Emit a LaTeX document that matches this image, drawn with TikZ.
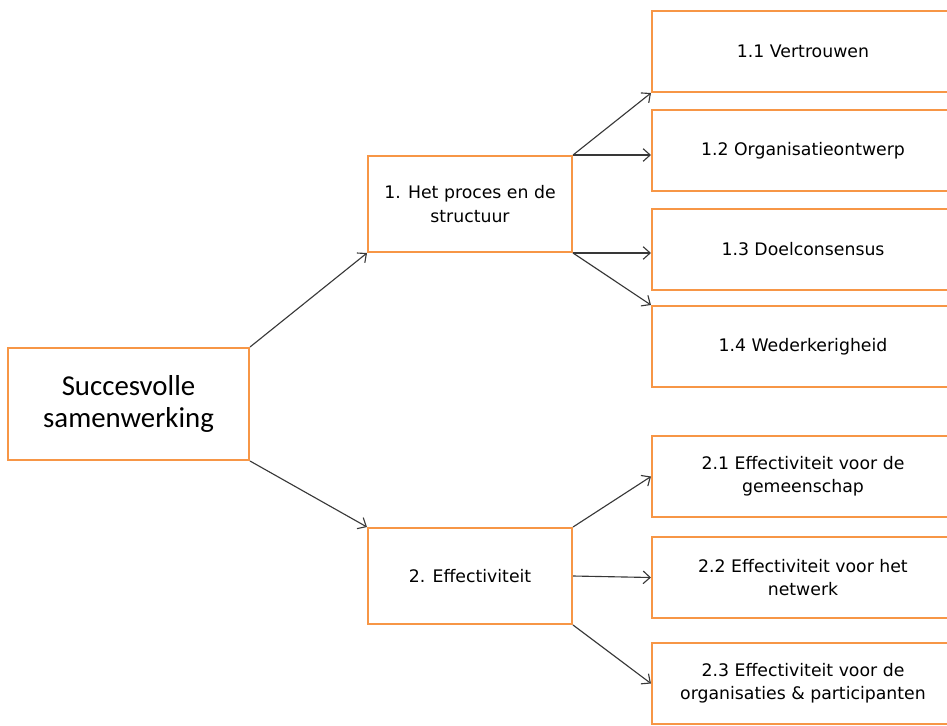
\documentclass[tikz,border=0pt]{standalone}
\usepackage{fontspec}
\setmainfont{DejaVu Sans}
\newfontfamily\rootfont{Carlito}
\usetikzlibrary{arrows.meta}
\definecolor{boxorange}{HTML}{F79646}
\definecolor{arrowgray}{HTML}{383838}

\begin{document}
\begin{tikzpicture}[x=0.025cm,y=-0.025cm,
    box/.style={draw=boxorange,line width=1.4pt,fill=white,align=center,inner sep=0pt,
      font=\fontsize{12.3}{16.6}\selectfont},
    midbox/.style={box,minimum width=5.1cm,minimum height=2.4cm},
    sidebox/.style={box,minimum width=7.55cm,minimum height=2.025cm},
    link/.style={draw=arrowgray,line width=0.8pt,-{Straight Barb[length=5pt,width=9pt]}}]
  \useasboundingbox (0,0) rectangle (947,725);

  \node[box,minimum width=6.025cm,minimum height=2.8cm,font=\rootfont\fontsize{20.5}{23}\selectfont]
    (root) at (128.5,404) {Succesvolle\\samenwerking};

  \node[midbox] (proc) at (470,204) {1. Het proces en de\\structuur};
  \node[midbox] (eff) at (470,576) {2. Effectiviteit};

  \foreach \n/\y/\t in {a1/51.5/{1.1 Vertrouwen},
                        a2/150.5/{1.2 Organisatieontwerp},
                        a3/249.5/{1.3 Doelconsensus},
                        a4/346.5/{1.4 Wederkerigheid},
                        b1/476.5/{2.1 Effectiviteit voor de\\gemeenschap},
                        b2/577.5/{2.2 Effectiviteit voor het\\netwerk},
                        b3/683.5/{2.3 Effectiviteit voor de\\organisaties \& participanten}}
    \node[sidebox] (\n) at (803,\y) {\t};

  \draw[link] (root.north east) -- (proc.south west);
  \draw[link] (root.south east) -- (eff.north west);

  % the straight ones leave the corners level
  \draw[link] (proc.north east) -- (a1.south west);
  \draw[link] (proc.north east) -- (a2.west |- proc.north east);
  \draw[link] (proc.south east) -- (a3.west |- proc.south east);
  \draw[link] (proc.south east) -- (a4.north west);

  \draw[link] (eff.north east) -- (b1.west);
  \draw[link] (eff.east) -- (b2.west);
  \draw[link] (eff.south east) -- (b3.west);
\end{tikzpicture}
\end{document}
